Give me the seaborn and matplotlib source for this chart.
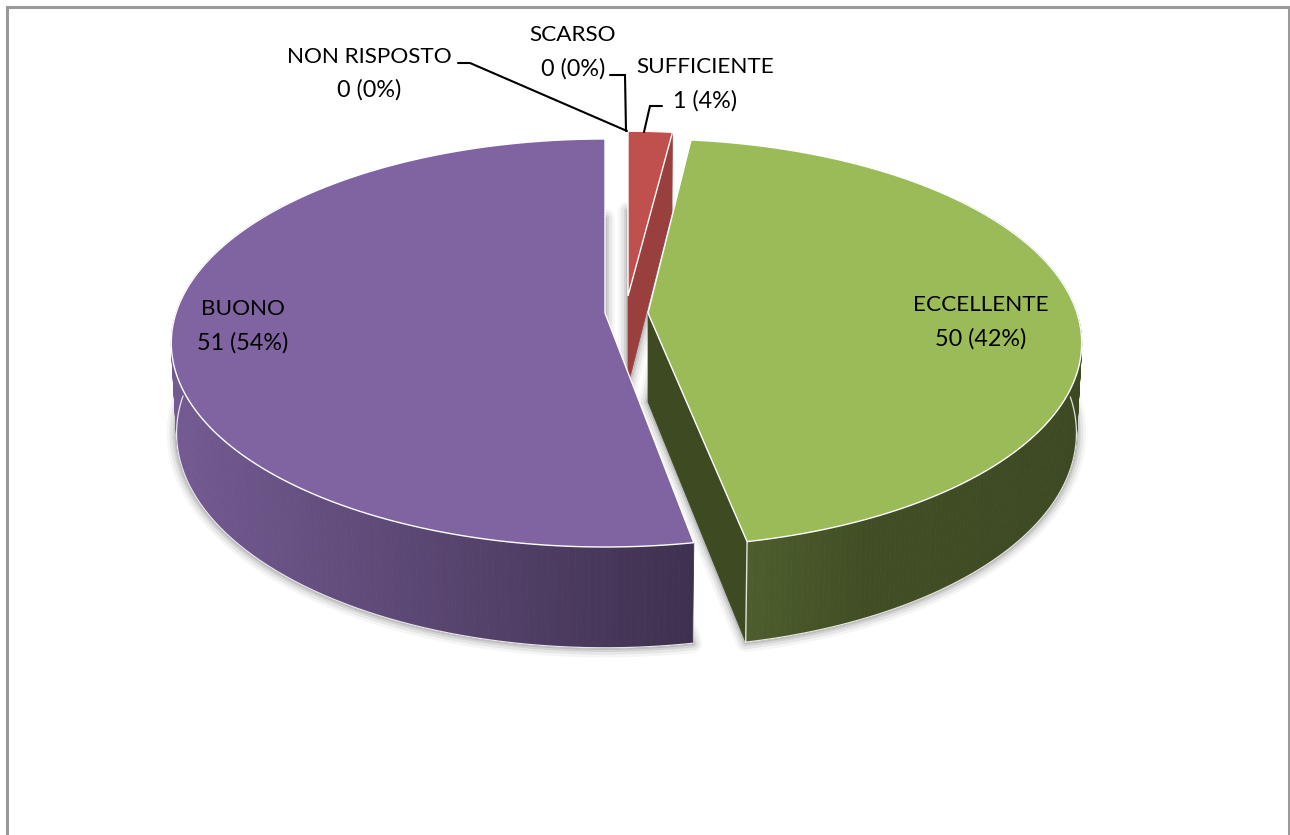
import numpy as np
import matplotlib
matplotlib.use("Agg")
import matplotlib.pyplot as plt
import matplotlib.transforms as mtransforms
from matplotlib.path import Path
from matplotlib.colors import to_rgb
import seaborn as sns

# ---- data ----
categories = ["NON RISPOSTO", "SCARSO", "SUFFICIENTE", "ECCELLENTE", "BUONO"]
counts = [0, 0, 1, 50, 51]
percent_labels = [0, 0, 4, 42, 54]
drawn_share = [0.0, 0.0, 2.0, 45.0, 53.0]   # slice sizes as seen in the picture
top_colors = ["#4bacc6", "#8064a2", "#c0504d", "#9bbb59", "#8064a2"]

sns.set_theme(style="white")
plt.rcParams["font.family"] = ["Lato", "DejaVu Sans"]

# projection of the tilted pie
A, B, KV, MZ, C = 429.0, 199.6, 0.147, 0.012, 90.0
apex = {"SUFFICIENTE": (628, 296, 0.94), "ECCELLENTE": (648, 313, 1.0), "BUONO": (605, 313, 1.0)}
# small angular trims (degrees) that open the gaps seen between exploded slices
trim = {"SUFFICIENTE": (0.0, 0.0), "ECCELLENTE": (0.6, 0.6), "BUONO": (0.0, -0.6)}


def project(u, v, z, cx, cy, r):
    u, v = np.asarray(u) * r, np.asarray(v) * r
    w = 1 + KV * v + MZ * z
    return cx + A * u / w, cy + (-B * v + C * z) / w


class PieProjection(mtransforms.Transform):
    input_dims = output_dims = 2
    is_separable = False
    has_inverse = False

    def __init__(self, cx, cy, r, z=0.0):
        super().__init__()
        self.p = (cx, cy, r)
        self.z = z

    def transform_non_affine(self, values):
        values = np.asarray(values)
        x, y = project(values[:, 0], values[:, 1], self.z, *self.p)
        return np.column_stack([x, y])

    def transform_path_non_affine(self, path):
        # sample the curved arcs so that the perspective is exact along them
        pts = [curve(np.linspace(0, 1, 30)) for curve, _ in path.iter_bezier()]
        return Path(self.transform_non_affine(np.vstack(pts)))


fig = plt.figure(figsize=(12.9, 8.35), dpi=100, facecolor="white")
ax = fig.add_axes([0, 0, 1, 1])

shown = [i for i, s in enumerate(drawn_share) if s > 0]
wedges, _ = ax.pie([drawn_share[i] for i in shown], startangle=90, counterclock=False,
                   colors=[top_colors[i] for i in shown],
                   wedgeprops=dict(edgecolor="white", linewidth=1.0, zorder=20))
ax.set_aspect("auto")
ax.set_xlim(0, 1290)
ax.set_ylim(835, 0)
ax.set_axis_off()


def shade(c, f):
    return tuple(np.clip(np.array(to_rgb(c)) * f, 0, 1))


side_shade = {
    "BUONO": lambda x: np.interp(x, [175, 450, 694], [0.90, 0.68, 0.48]),
    "ECCELLENTE": lambda x: np.interp(x, [745, 860, 1080], [0.50, 0.42, 0.39]),
    "SUFFICIENTE": lambda x: 0.6,
}

for wedge, i in zip(wedges, shown):
    name = categories[i]
    cx, cy, r = apex[name]
    wedge.set_theta1(wedge.theta1 + trim[name][0])
    wedge.set_theta2(wedge.theta2 + trim[name][1])
    wedge.set_transform(PieProjection(cx, cy, r) + ax.transData)
    th = np.radians(np.linspace(wedge.theta1, wedge.theta2, 240))
    u, v = np.cos(th), np.sin(th)

    # soft shadow round the lower outline
    xl, yl = project(u, v, 1, cx, cy, r)
    ax_, ay_ = project(0, 0, 1, cx, cy, r)
    sx, sy = np.r_[ax_, xl, ax_], np.r_[ay_, yl, ay_]
    for lw, al in [(14, 0.04), (10, 0.06), (6, 0.08), (3, 0.10)]:
        ax.plot(sx, sy, color="black", lw=lw, alpha=al, solid_joinstyle="round", zorder=1)

for wedge, i in zip(wedges, shown):
    name = categories[i]
    cx, cy, r = apex[name]
    col = top_colors[i]
    th = np.radians(np.linspace(wedge.theta1, wedge.theta2, 240))
    u, v = np.cos(th), np.sin(th)
    xt, yt = project(u, v, 0, cx, cy, r)
    xl, yl = project(u, v, 1, cx, cy, r)
    order = np.argsort(-v[:-1])
    base_z = {"SUFFICIENTE": 3, "ECCELLENTE": 5, "BUONO": 7}[name]

    # outer wall strips, back to front
    if name != "SUFFICIENTE":
        for j in order:
            if v[j] > 0.6:
                continue
            f = side_shade[name](xt[j])
            c = shade(col, f)
            ax.fill([xt[j], xt[j + 1], xl[j + 1], xl[j]], [yt[j], yt[j + 1], yl[j + 1], yl[j]],
                    facecolor=c, edgecolor=c, lw=0.6, zorder=base_z)
        vis = v < 0.03
        ax.plot(xl[vis], yl[vis], color="white", lw=0.9, alpha=0.85, zorder=base_z + 0.5)

    ax0, ay0 = project(0, 0, 0, cx, cy, r)
    ax1, ay1 = project(0, 0, 1, cx, cy, r)
    if name == "SUFFICIENTE":
        # right cut face
        j = int(np.argmax(u))
        ax.fill([xt[j], ax0, ax1, xl[j]], [yt[j], ay0, ay1, yl[j]],
                facecolor="#993f3d", edgecolor="#993f3d", lw=0.5, zorder=base_z)
    if name == "ECCELLENTE":
        # left cut face, running to the front edge
        j = int(np.argmin(v))
        ax.fill([ax0, xt[j], xl[j], ax1], [ay0, yt[j], yl[j], ay1],
                facecolor="#3e4a21", edgecolor="#3e4a21", lw=0.5, zorder=base_z + 0.2)
        ax.plot([xt[j], xl[j]], [yt[j], yl[j]], color="white", lw=1.0, alpha=0.85, zorder=base_z + 0.6)

# frame
ax.plot([6.5, 6.5, 1288.5, 1288.5], [835, 7, 7, 835], color="#9a9a9a", lw=2.2, zorder=2,
        solid_joinstyle="miter")

# labels
label_pos = {
    "NON RISPOSTO": (369, 57, 90),
    "SCARSO": (573, 35, 69),
    "SUFFICIENTE": (705, 67, 101),
    "ECCELLENTE": (981, 305, 339),
    "BUONO": (243, 309, 343),
}
for name, n, p in zip(categories, counts, percent_labels):
    x, y1, y2 = label_pos[name]
    ax.text(x, y1, name, ha="center", va="center", fontsize=16.2, color="black", zorder=30)
    ax.text(x, y2, f"{n} ({p}%)", ha="center", va="center", fontsize=16.8, color="black", zorder=30)

# leader lines
for lx, ly in [([458, 470, 627], [63, 63, 131]),
               ([610, 625, 626], [75, 75, 131]),
               ([662, 650, 644], [106, 106, 132])]:
    ax.plot(lx, ly, color="black", lw=1.5, zorder=25, solid_joinstyle="miter")

fig.savefig("out.png", dpi=100, facecolor="white")
